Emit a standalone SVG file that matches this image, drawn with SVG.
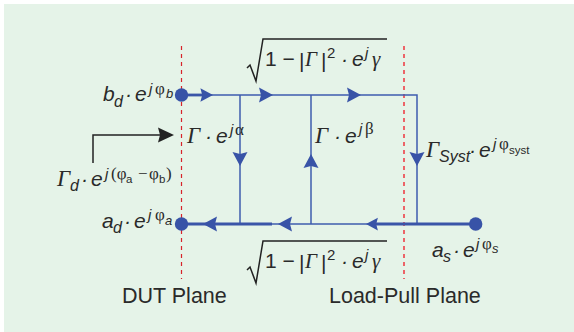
<svg xmlns="http://www.w3.org/2000/svg" width="574" height="332" viewBox="0 0 574 332">
<style>
text{font-family:"Liberation Sans",Arial,sans-serif;fill:#2a2a2a}
.m{font-size:21px;font-style:italic}
.g{font-family:"Liberation Serif",serif;font-size:23px;font-style:italic}
.gg{font-family:"Liberation Serif",serif;font-size:21px;font-style:italic}
.s{font-size:16px;font-style:italic}
.j{font-size:15px;font-style:italic}
.u{font-family:"Liberation Serif",serif;font-size:17px}
.x{font-size:11.500px}
.xi{font-size:13px;font-style:italic}
.l{font-size:21px}
.p{font-size:21.500px}
.w{fill:none;stroke:#3e5cae;stroke-width:1.500}
.b{fill:none;stroke:#3a55a8;stroke-width:2.800}
.d{fill:none;stroke-dasharray:4 4}
.k{fill:none;stroke:#222;stroke-width:1.500}
.a{fill:#3853a7}
.n{fill:#3853a7}
</style>
<defs>
<path id="ar" class="a" d="M0 0L-14 -7.500L-12 0L-14 7.500Z"/>
<path id="rad" d="M247 68L250 65L256 81L263 39H387" class="k"/>
</defs>
<rect x="4" y="4" width="570" height="328" fill="#e5f3e8"/>
<g id="planes">
<path class="d" stroke="#d8232a" stroke-width="1.200" d="M181.500 46V279"/>
<path class="d" stroke="#ee4a52" stroke-width="1.700" d="M404 46V279"/>
</g>
<g id="connectors">
<path class="w" d="M181 95H417V224"/>
<path class="w" d="M240 95V224"/>
<path class="w" d="M311 95V224"/>
<path class="w" d="M181 224H476"/>
<path class="b" d="M181 95H205"/>
<path class="b" d="M181 224H272M372 224H476"/>
<use href="#ar" transform="translate(213,95) scale(.9)"/>
<use href="#ar" transform="translate(273,95)"/>
<use href="#ar" transform="translate(361,95)"/>
<use href="#ar" transform="translate(240,166) rotate(90)"/>
<use href="#ar" transform="translate(311,154) rotate(-90)"/>
<use href="#ar" transform="translate(417,166) rotate(90)"/>
<use href="#ar" transform="translate(203,224) rotate(180)"/>
<use href="#ar" transform="translate(278,224) rotate(180)"/>
<use href="#ar" transform="translate(366,224) rotate(180) scale(.85)"/>
<path class="k" d="M93 163V135H165"/>
<path fill="#222" d="M174 135L158 127.500L160 135L158 142.500Z"/>
</g>
<g id="node-bd">
<circle class="n" cx="181.500" cy="95" r="6.700"/>
<text class="m" x="103" y="101">b</text><text class="s" x="114" y="107">d</text>
<text class="m" x="125" y="101">·</text><text class="m" x="135" y="101">e</text>
<text class="j" x="149" y="94">j</text><text class="u" x="155" y="94">φ</text><text class="xi" x="166" y="98">b</text>
</g>
<g id="node-ad">
<circle class="n" cx="181.500" cy="224" r="6.700"/>
<text class="m" x="102" y="228">a</text><text class="s" x="113" y="233">d</text>
<text class="m" x="124" y="228">·</text><text class="m" x="134" y="228">e</text>
<text class="j" x="148" y="220">j</text><text class="u" x="155" y="220">φ</text><text class="xi" x="165" y="225">a</text>
</g>
<g id="node-as">
<circle class="n" cx="475.700" cy="224" r="6.700"/>
<text class="m" x="432" y="257">a</text><text class="s" x="443" y="262">s</text>
<text class="m" x="453" y="257">·</text><text class="m" x="463" y="257">e</text>
<text class="j" x="476" y="249">j</text><text class="u" x="482" y="249">φ</text><text class="xi" x="492" y="253">s</text>
</g>
<g id="label-gamma-d">
<text class="g" x="57" y="186">Γ</text><text class="s" x="70" y="191">d</text>
<text class="m" x="81" y="186">·</text><text class="m" x="91" y="186">e</text>
<text class="j" x="105" y="179">j</text><text class="u" x="111" y="179">(φ</text><text class="x" x="126" y="183">a</text>
<text class="u" x="138" y="179">−</text><text class="u" x="149" y="179">φ</text><text class="x" x="159" y="183">b</text><text class="u" x="166" y="179">)</text>
</g>
<g id="label-alpha">
<text class="g" x="187" y="143">Γ</text><text class="m" x="205" y="143">·</text><text class="m" x="216" y="143">e</text>
<text class="j" x="230" y="135">j</text><text class="u" x="235" y="135">α</text>
</g>
<g id="label-beta">
<text class="g" x="315" y="143">Γ</text><text class="m" x="334" y="143">·</text><text class="m" x="345" y="143">e</text>
<text class="j" x="359" y="134">j</text><text class="u" x="365" y="134">β</text>
</g>
<g id="label-syst">
<text class="g" x="426" y="157">Γ</text><text class="s" x="439" y="162" font-size="18">Syst</text>
<text class="m" x="469" y="157">·</text><text class="m" x="479" y="157">e</text>
<text class="j" x="493" y="149">j</text><text class="u" x="499" y="149">φ</text><text class="x" x="509" y="154">syst</text>
</g>
<g id="label-top">
<use href="#rad"/>
<text class="l" x="265" y="66">1 −</text>
<text class="l" x="299" y="68">|</text><text class="gg" x="305" y="66">Γ</text><text class="l" x="321" y="68">|</text><text class="x" x="327" y="58" style="font-size:15px">2</text>
<text class="m" x="341" y="66">·</text><text class="m" x="352" y="66">e</text>
<text class="j" x="365" y="58">j</text><text class="gg" x="372" y="66">γ</text>
</g>
<g id="label-bottom">
<use href="#rad" transform="translate(0,202)"/>
<text class="l" x="265" y="268">1 −</text>
<text class="l" x="299" y="270">|</text><text class="gg" x="305" y="268">Γ</text><text class="l" x="321" y="270">|</text><text class="x" x="327" y="260" style="font-size:15px">2</text>
<text class="m" x="341" y="268">·</text><text class="m" x="352" y="268">e</text>
<text class="j" x="365" y="260">j</text><text class="gg" x="372" y="268">γ</text>
</g>
<g id="plane-labels">
<text class="p" x="122" y="303">DUT Plane</text>
<text class="p" x="329" y="303">Load-Pull Plane</text>
</g>
</svg>
